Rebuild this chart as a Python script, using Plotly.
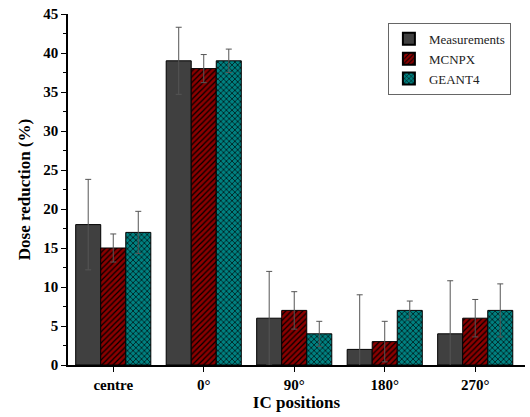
import plotly.graph_objects as go

categories = ["centre", "0°", "90°", "180°", "270°"]
measurements = [18, 39, 6, 2, 4]
measurements_err = [5.8, 4.3, 6.0, 7.0, 6.8]
mcnpx = [15, 38, 7, 3, 6]
mcnpx_err = [1.8, 1.8, 2.4, 2.6, 2.4]
geant4 = [17, 39, 4, 7, 7]
geant4_err = [2.7, 1.5, 1.6, 1.2, 3.4]

FONT = "Liberation Serif, Times New Roman, serif"
err_style = dict(type="data", visible=True, color="#555555", thickness=1, width=3)

fig = go.Figure()
fig.add_trace(go.Bar(
    name="Measurements", x=categories, y=measurements,
    marker=dict(color="#404040", line=dict(color="black", width=1)),
    error_y=dict(array=measurements_err, **err_style),
))
fig.add_trace(go.Bar(
    name="MCNPX", x=categories, y=mcnpx,
    marker=dict(color="#8b0000", line=dict(color="black", width=1),
                pattern=dict(shape="/", fgcolor="black", bgcolor="#8b0000",
                             size=4, solidity=0.3, fillmode="replace")),
    error_y=dict(array=mcnpx_err, **err_style),
))
fig.add_trace(go.Bar(
    name="GEANT4", x=categories, y=geant4,
    marker=dict(color="#008080", line=dict(color="black", width=1),
                pattern=dict(shape="x", fgcolor="black", bgcolor="#008080",
                             size=4, solidity=0.3, fillmode="replace")),
    error_y=dict(array=geant4_err, **err_style),
))

fig.update_layout(
    width=530, height=417,
    margin=dict(l=68, r=5, t=14, b=52),
    paper_bgcolor="white", plot_bgcolor="white",
    barmode="group", bargap=0.17, bargroupgap=0,
    font=dict(family=FONT, color="black"),
    showlegend=True,
    legend=dict(x=0.70, y=0.975, xanchor="left", yanchor="top",
                bordercolor="#666666", borderwidth=1, bgcolor="white",
                font=dict(family=FONT, size=13, color="#222222"),
                tracegroupgap=0, itemsizing="constant", itemwidth=30),
)
fig.update_xaxes(
    range=[-0.5, 4.55], showline=True, linecolor="black", linewidth=1.5,
    ticks="outside", ticklen=5, tickcolor="black",
    tickfont=dict(family=FONT, size=15, color="black", weight="bold"),
    title=dict(text="<b>IC positions</b>", font=dict(family=FONT, size=17), standoff=4),
    showgrid=False, zeroline=False, automargin=False,
    minor=dict(ticks="outside", ticklen=4, tickcolor="black", tick0=-0.5, dtick=1),
)
fig.update_yaxes(
    range=[0, 45], dtick=5, showline=True, linecolor="black", linewidth=1.5,
    ticks="outside", ticklen=5, tickcolor="black",
    tickfont=dict(family=FONT, size=15, color="black", weight="bold"),
    title=dict(text="<b>Dose reduction (%)</b>", font=dict(family=FONT, size=17), standoff=8),
    showgrid=False, zeroline=False, automargin=False,
    minor=dict(ticks="outside", ticklen=3, tickcolor="black", dtick=2.5),
)

fig.write_html("out.html", config={"displayModeBar": False},
               post_script="document.body.style.margin='0';")
